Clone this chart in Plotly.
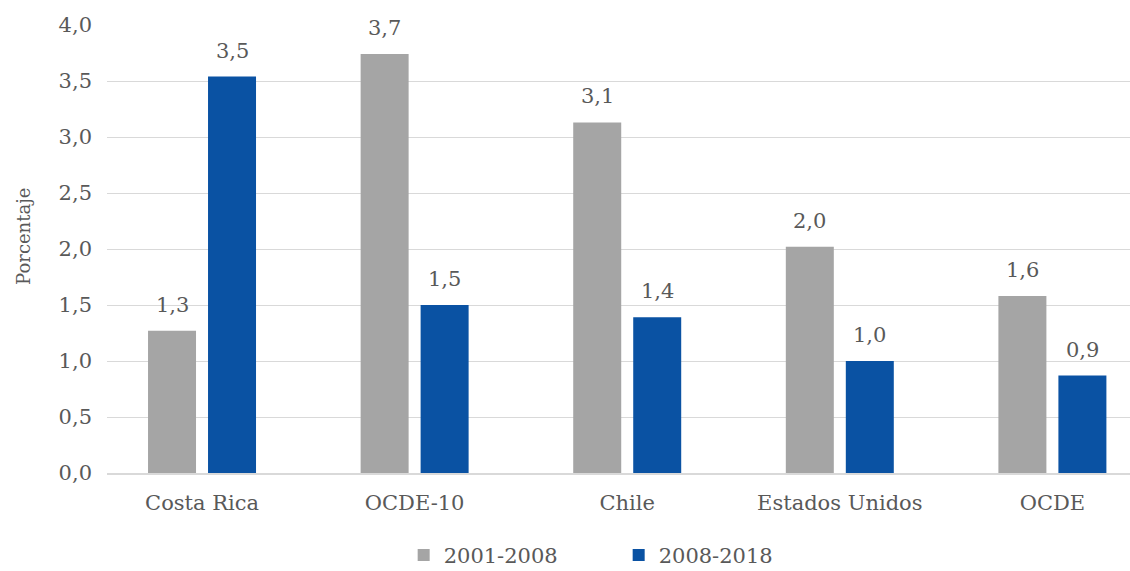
import plotly.graph_objects as go

categories = ["Costa Rica", "OCDE-10", "Chile", "Estados Unidos", "OCDE"]
series_names = ["2001-2008", "2008-2018"]
values_2001_2008 = [1.27, 3.74, 3.13, 2.02, 1.58]
values_2008_2018 = [3.54, 1.50, 1.39, 1.00, 0.87]
tick_vals = [0, 0.5, 1.0, 1.5, 2.0, 2.5, 3.0, 3.5, 4.0]

FONT = "DejaVu Serif"
TXT = "#595959"
FS = 21
colors = ["#A5A5A5", "#0A52A3"]

fig = go.Figure()
for name, vals, col in zip(series_names, [values_2001_2008, values_2008_2018], colors):
    fig.add_trace(go.Bar(x=categories, y=vals, name=name, marker_color=col,
                         marker_line_width=0))

# value labels above bars
for shift, vals in zip([-30, 30], [values_2001_2008, values_2008_2018]):
    for c, v in zip(categories, vals):
        fig.add_annotation(x=c, y=v, xref="x", yref="y", text=f"{v:.1f}".replace(".", ","),
                           showarrow=False, xshift=shift, yshift=26, yanchor="middle",
                           font=dict(family=FONT, size=FS, color=TXT))

fig.add_annotation(xref="paper", yref="paper", x=-0.0811, y=0.527, text="Porcentaje",
                   textangle=-90, showarrow=False, xanchor="center", yanchor="middle",
                   font=dict(family=FONT, size=18, color=TXT))

fig.update_layout(
    width=1130, height=571,
    margin=dict(l=107, r=0, t=25, b=98, autoexpand=False),
    paper_bgcolor="white", plot_bgcolor="white",
    separators=",.",
    barmode="group", bargap=0.4356, bargroupgap=0.2,
    font=dict(family=FONT, size=FS, color=TXT),
    showlegend=True,
    legend=dict(orientation="h", x=0.29, xanchor="left", y=-0.184, yanchor="middle",
                font=dict(family=FONT, size=FS, color=TXT), itemwidth=30,
                entrywidth=170, entrywidthmode="pixels", tracegroupgap=0),
    xaxis=dict(showgrid=False, showline=True, linecolor="#D9D9D9", linewidth=1.5,
               ticks="", automargin=False, ticklabelstandoff=10,
               range=[-0.447, 4.365],
               tickfont=dict(family=FONT, size=FS, color=TXT)),
    yaxis=dict(range=[0, 4.0], tickvals=tick_vals, tickformat=".1f",
               showgrid=True, gridcolor="#D9D9D9", gridwidth=1,
               zeroline=False, showline=False, ticks="", automargin=False,
               ticklabelstandoff=14,
               tickfont=dict(family=FONT, size=FS, color=TXT)),
)

fig.write_html("out.html", config={"displayModeBar": False},
               post_script="document.body.style.margin='0';")
